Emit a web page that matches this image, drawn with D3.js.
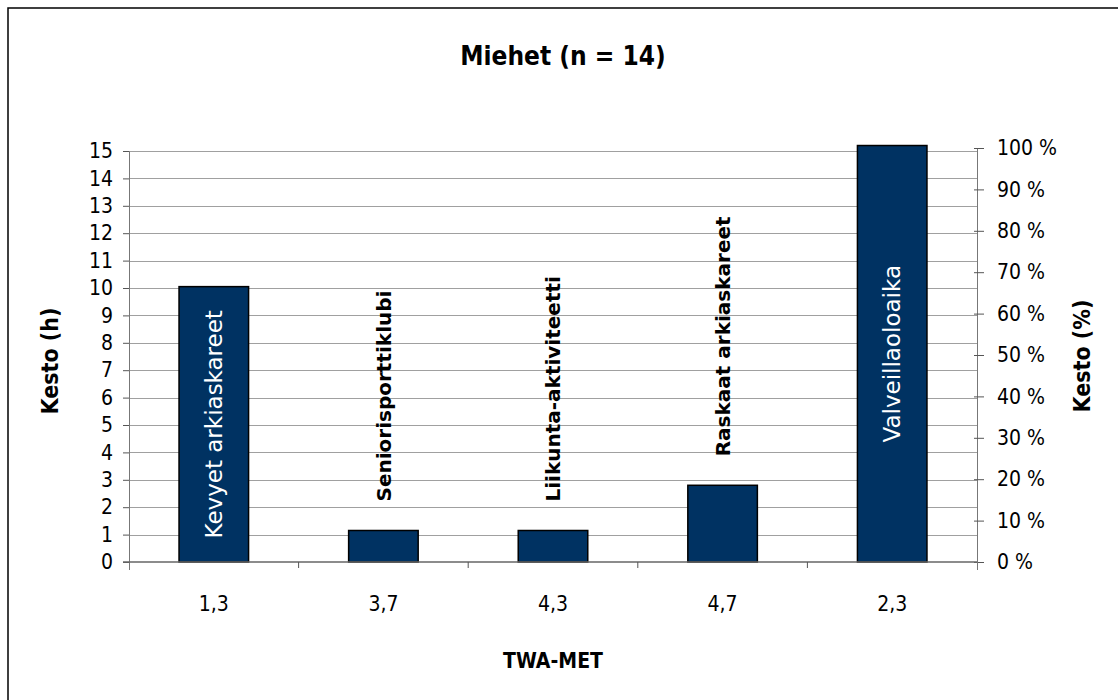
<!DOCTYPE html>
<html>
<head>
<meta charset="utf-8">
<script src="https://cdn.jsdelivr.net/npm/d3@7"></script>
<style>
  body { margin: 0; background: #fff; }
  svg text { font-family: "DejaVu Sans Condensed", "DejaVu Sans", sans-serif; }
  svg text.barlabel { font-family: "DejaVu Sans", sans-serif; }
</style>
</head>
<body>
<div id="chart"></div>
<script>
// activities, TWA-MET values and hours
var activities = ['Kevyet arkiaskareet', 'Seniorisporttiklubi', 'Liikunta-aktiviteetti', 'Raskaat arkiaskareet', 'Valveillaoloaika'];
var metLabels = ['1,3', '3,7', '4,3', '4,7', '2,3'];
var hours = [10.05, 1.15, 1.15, 2.8, 15.2];
var labelInside = [true, false, false, false, true];
var hourTicks = d3.range(0, 16);
var pctTicks = d3.range(0, 1.01, 0.1);

var W = 1118, H = 700;
var plotL = 129, plotR = 977, plotT = 151, plotB = 562;

var svg = d3.select('#chart').append('svg')
    .attr('width', W)
    .attr('height', H);

// outer frame
svg.append('rect')
    .attr('x', 8).attr('y', 8)
    .attr('width', 1130).attr('height', 720)
    .attr('fill', 'none')
    .attr('stroke', '#000')
    .attr('stroke-width', 1.5);

var x = d3.scaleBand()
    .domain(activities)
    .range([plotL, plotR])
    .paddingInner(0.59)
    .paddingOuter(0.295);

var y = d3.scaleLinear()
    .domain([0, 15])
    .range([plotB, plotT]);

var yPct = d3.scaleLinear()
    .domain([0, 1])
    .range([plotB, 148]);

// grid
svg.append('g')
    .selectAll('line')
    .data(hourTicks.filter(function(d){ return d > 0; }))
    .enter().append('line')
    .attr('x1', plotL).attr('x2', plotR)
    .attr('y1', function(d){ return Math.round(y(d)) + 0.5; })
    .attr('y2', function(d){ return Math.round(y(d)) + 0.5; })
    .attr('stroke', '#a0a0a0')
    .attr('stroke-width', 1);

// left axis
var yAxis = svg.append('g')
    .attr('transform', 'translate(' + plotL + ',0)')
    .call(d3.axisLeft(y).tickValues(hourTicks).tickSize(6).tickPadding(10));
yAxis.selectAll('text').style('font-size', '21px').attr('fill', '#000');

// right axis
var yAxisR = svg.append('g')
    .attr('transform', 'translate(' + plotR + ',0)')
    .call(d3.axisRight(yPct).tickValues(pctTicks).tickSize(7).tickPadding(13)
        .tickFormat(function(d){ return Math.round(d * 100) + ' %'; }));
yAxisR.selectAll('.tick line').attr('x1', -3);
yAxisR.selectAll('text').style('font-size', '21px').attr('fill', '#000');

[yAxis, yAxisR].forEach(function(a){
    a.select('.domain').attr('stroke', '#777');
    a.selectAll('.tick line').attr('stroke', '#555');
    // axis line runs a little below zero, like the original
    a.append('line')
        .attr('x1', 0.5).attr('x2', 0.5)
        .attr('y1', plotB).attr('y2', plotB + 8)
        .attr('stroke', '#777');
});

// bars
svg.append('g')
    .selectAll('rect')
    .data(activities)
    .enter().append('rect')
    .attr('x', function(d){ return x(d); })
    .attr('y', function(d, i){ return y(hours[i]); })
    .attr('width', x.bandwidth())
    .attr('height', function(d, i){ return plotB - y(hours[i]); })
    .attr('fill', '#003262')
    .attr('stroke', '#000')
    .attr('stroke-width', 1.5);

// bottom axis
var band = (plotR - plotL) / activities.length;
var xb = svg.append('g').attr('transform', 'translate(0,' + plotB + ')');
xb.append('line')
    .attr('x1', plotL - 6).attr('x2', plotR)
    .attr('stroke', '#666').attr('stroke-width', 1.5);
xb.selectAll('.sep')
    .data(d3.range(1, activities.length))
    .enter().append('line')
    .attr('x1', function(d){ return plotL + d * band; })
    .attr('x2', function(d){ return plotL + d * band; })
    .attr('y1', 0).attr('y2', 6)
    .attr('stroke', '#555');
xb.selectAll('.met')
    .data(metLabels)
    .enter().append('text')
    .attr('x', function(d, i){ return x(activities[i]) + x.bandwidth() / 2; })
    .attr('y', 49)
    .attr('text-anchor', 'middle')
    .style('font-size', '21px')
    .text(function(d){ return d; });

// bar labels
svg.append('g')
    .selectAll('text')
    .data(activities)
    .enter().append('text')
    .attr('class', 'barlabel')
    .attr('transform', function(d, i){
        var cx = x(d) + x.bandwidth() / 2;
        var cy = labelInside[i] ? (y(hours[i]) + plotB) / 2 : y(hours[i]) - 29;
        return 'translate(' + cx + ',' + cy + ') rotate(-90)';
    })
    .attr('text-anchor', function(d, i){ return labelInside[i] ? 'middle' : 'start'; })
    .attr('dy', '0.36em')
    .attr('fill', function(d, i){ return labelInside[i] ? '#fff' : '#000'; })
    .style('font-size', function(d, i){ return labelInside[i] ? '23px' : '20px'; })
    .style('font-weight', function(d, i){ return labelInside[i] ? 'normal' : 'bold'; })
    .text(function(d){ return d; });

// titles
svg.append('text')
    .attr('x', 563).attr('y', 65)
    .attr('text-anchor', 'middle')
    .style('font-size', '26px').style('font-weight', 'bold')
    .text('Miehet (n = 14)');

svg.append('text')
    .attr('x', 553).attr('y', 668)
    .attr('text-anchor', 'middle')
    .style('font-size', '21px').style('font-weight', 'bold')
    .text('TWA-MET');

svg.append('text')
    .attr('transform', 'translate(58,361) rotate(-90)')
    .attr('text-anchor', 'middle')
    .style('font-size', '23px').style('font-weight', 'bold')
    .text('Kesto (h)');

svg.append('text')
    .attr('transform', 'translate(1090,356) rotate(-90)')
    .attr('text-anchor', 'middle')
    .style('font-size', '23px').style('font-weight', 'bold')
    .text('Kesto (%)');
</script>
</body>
</html>
